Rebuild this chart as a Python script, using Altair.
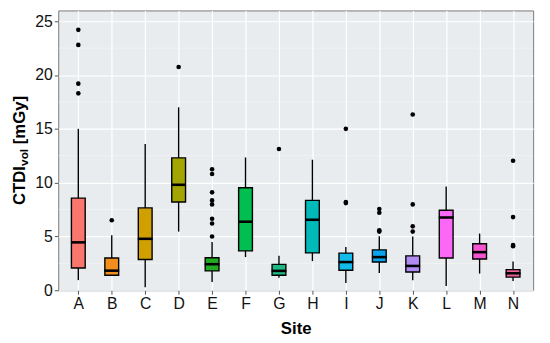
import altair as alt
import pandas as pd

sites = list("ABCDEFGHIJKLMN")
colors = ["#F8766D", "#F28E1C", "#CFA000", "#A3A500", "#22AA22", "#00BF50", "#1EB885",
          "#00B9B9", "#13BBEB", "#0BA4EC", "#B08CF2", "#FB68F6", "#F556D0", "#EE5E9A"]

whisk_lo = [0.94, 1.4, 0.27, 5.45, 0.76, 3.08, 1.16, 2.71, 0.67, 1.6, 0.94, 0.4, 1.55, 0.85]
q1 = [2.07, 1.4, 2.86, 8.2, 1.8, 3.66, 1.4, 3.47, 1.86, 2.62, 1.7, 3.0, 2.9, 1.22]
median = [4.45, 1.82, 4.78, 9.8, 2.42, 6.37, 1.8, 6.55, 2.62, 3.08, 2.26, 6.76, 3.54, 1.58]
q3 = [8.56, 3.0, 7.65, 12.3, 3.02, 9.53, 2.4, 8.35, 3.45, 3.75, 3.2, 7.43, 4.32, 1.92]
whisk_hi = [15.0, 5.1, 13.6, 17.0, 4.48, 12.34, 3.2, 12.13, 4.02, 5.03, 5.0, 9.63, 5.27, 2.68]

out_site = ["A", "A", "A", "A", "B", "D",
            "E", "E", "E", "E", "E", "E", "E", "E",
            "G", "I", "I", "I", "J", "J", "J", "J",
            "K", "K", "K", "K", "N", "N", "N", "N"]
out_value = [24.2, 22.8, 19.2, 18.3, 6.5, 20.75,
             11.25, 10.8, 9.1, 8.35, 7.98, 6.64, 6.2, 5.0,
             13.13, 15.0, 8.2, 8.1, 7.55, 7.2, 5.58, 5.45,
             16.33, 7.98, 5.94, 5.45, 12.04, 6.8, 4.2, 4.1]

y_ticks = [0, 5, 10, 15, 20, 25]
y_minor = [2.5, 7.5, 12.5, 17.5, 22.5]

box_df = pd.DataFrame({"site": sites, "lo": whisk_lo, "q1": q1, "med": median,
                       "q3": q3, "hi": whisk_hi})
out_df = pd.DataFrame({"site": out_site, "value": out_value})
minor_df = pd.DataFrame({"m": y_minor})

FONT = "Liberation Sans, Arial"

xscale = alt.Scale(type="point", padding=0.6, domain=sites)
xaxis = alt.Axis(title="Site", labelAngle=0, grid=True)
yscale = alt.Scale(domain=[0, 26], nice=False, zero=True)
yaxis = alt.Axis(title=None, values=y_ticks, grid=True)

X = alt.X("site:N", scale=xscale, axis=xaxis)

minor = alt.Chart(minor_df).mark_rule(color="white", strokeWidth=0.6, opacity=0.55).encode(
    y=alt.Y("m:Q", scale=yscale, axis=yaxis)
)

base = alt.Chart(box_df)
whisk = base.mark_rule(color="black", strokeWidth=1.4).encode(
    x=X, y=alt.Y("lo:Q", scale=yscale, axis=yaxis), y2="hi:Q"
)
box = base.mark_bar(size=14, stroke="black", strokeWidth=1.4).encode(
    x=X,
    y=alt.Y("q1:Q", scale=yscale, axis=yaxis),
    y2="q3:Q",
    color=alt.Color("site:N", scale=alt.Scale(domain=sites, range=colors), legend=None),
)
med = base.mark_tick(size=15, thickness=2.6, color="black", orient="horizontal", opacity=1).encode(
    x=X, y=alt.Y("med:Q", scale=yscale, axis=yaxis)
)
pts = alt.Chart(out_df).mark_circle(size=22, color="black", opacity=1).encode(
    x=X, y=alt.Y("value:Q", scale=yscale, axis=yaxis)
)

t1 = alt.Chart(pd.DataFrame({"t": ["CTDI"]})).mark_text(
    angle=270, align="left", baseline="alphabetic", font=FONT, fontSize=17,
    fontWeight="bold", color="black"
).encode(text="t:N", x=alt.value(-34), y=alt.value(197.5))
t2 = alt.Chart(pd.DataFrame({"t": ["vol"]})).mark_text(
    angle=270, align="left", baseline="alphabetic", font=FONT, fontSize=12,
    fontWeight="bold", color="black"
).encode(text="t:N", x=alt.value(-30.5), y=alt.value(157.8))
t3 = alt.Chart(pd.DataFrame({"t": ["[mGy]"]})).mark_text(
    angle=270, align="left", baseline="alphabetic", font=FONT, fontSize=17,
    fontWeight="bold", color="black"
).encode(text="t:N", x=alt.value(-34), y=alt.value(135.8))

chart = alt.layer(minor, whisk, box, med, pts, t1, t2, t3).properties(
    width=482, height=284,
    autosize=alt.AutoSizeParams(type="none"),
    padding={"left": 51, "top": 0, "right": 9, "bottom": 48},
).configure_view(
    fill="#E9ECEE", stroke="#7a7a7a", strokeWidth=1
).configure_axis(
    labelFont=FONT, labelFontSize=16, labelColor="#111111",
    tickColor="#555555", tickSize=4, tickWidth=1, labelPadding=2,
    gridColor="white", gridWidth=1.2, domain=False,
    titleFont=FONT, titleFontSize=17, titleFontWeight="bold", titleColor="black",
    titlePadding=9,
)

chart.save("out.html", embed_options={"renderer": "svg", "actions": False})
